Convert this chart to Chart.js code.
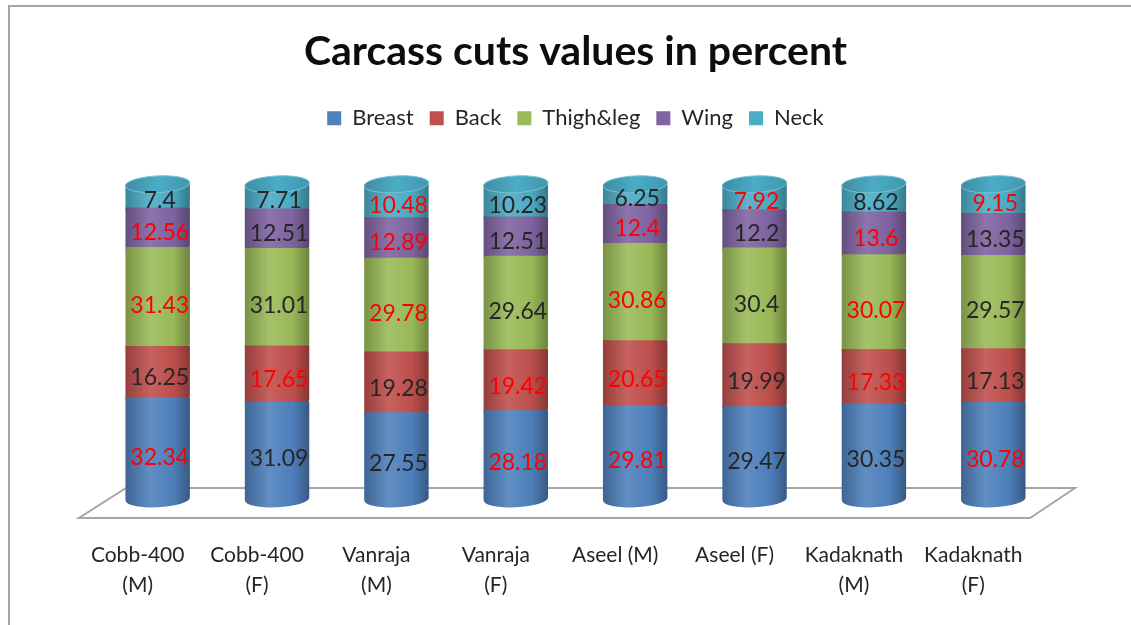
<!DOCTYPE html>
<html>
<head>
<meta charset="utf-8">
<script src="https://cdn.jsdelivr.net/npm/chart.js@4.4.1/dist/chart.umd.min.js"></script>
<style>
  html, body { margin:0; padding:0; background:#fff; }
  #wrap { width:1131px; height:625px; }
</style>
</head>
<body>
<div id="wrap"><canvas id="c" width="1131" height="625"></canvas></div>
<script>
// data
const categories = [["Cobb-400","(M)"], ["Cobb-400","(F)"], ["Vanraja","(M)"], ["Vanraja","(F)"],
                    "Aseel (M)", "Aseel (F)", ["Kadaknath","(M)"], ["Kadaknath","(F)"]];
const breast = [32.34, 31.09, 27.55, 28.18, 29.81, 29.47, 30.35, 30.78];
const back   = [16.25, 17.65, 19.28, 19.42, 20.65, 19.99, 17.33, 17.13];
const thigh  = [31.43, 31.01, 29.78, 29.64, 30.86, 30.4, 30.07, 29.57];
const wing   = [12.56, 12.51, 12.89, 12.51, 12.4, 12.2, 13.6, 13.35];
const neck   = [7.4, 7.71, 10.48, 10.23, 6.25, 7.92, 8.62, 9.15];

// which value labels are printed in red in the original (1 = red)
const breastRed = [1,0,0,1,1,0,0,1];
const backRed   = [0,1,0,1,1,0,1,0];
const thighRed  = [1,0,1,0,1,0,1,0];
const wingRed   = [1,0,1,0,1,0,1,0];
const neckRed   = [0,0,1,0,0,1,0,1];

const FONT = "Lato, 'Open Sans', sans-serif";
const TEXT = "#262626";

function shade(hex, f){
  const n = parseInt(hex.slice(1), 16);
  let r = n >> 16, g = (n >> 8) & 255, b = n & 255;
  const t = f < 0 ? 0 : 255, p = Math.abs(f);
  r = Math.round(r + (t - r) * p);
  g = Math.round(g + (t - g) * p);
  b = Math.round(b + (t - b) * p);
  return `rgb(${r},${g},${b})`;
}

// outer frame of the excel chart object (top + left edges only visible)
const frame = {
  id: "frame",
  beforeDraw(chart){
    const ctx = chart.ctx;
    ctx.save();
    ctx.strokeStyle = "#a6a6a6";
    ctx.lineWidth = 2;
    ctx.beginPath();
    ctx.moveTo(9, 625); ctx.lineTo(9, 6); ctx.lineTo(1131, 6);
    ctx.stroke();
    ctx.restore();
  }
};

// 3d floor under the cylinders
const floor = {
  id: "floor",
  beforeDatasetsDraw(chart){
    const { ctx, chartArea:a, scales } = chart;
    const y0 = scales.y.getPixelForValue(0);
    ctx.save();
    ctx.strokeStyle = "#a6a6a6";
    ctx.lineWidth = 2;
    ctx.beginPath();
    ctx.moveTo(a.left + 28, y0 - 11);
    ctx.lineTo(a.right + 22, y0 - 11);
    ctx.lineTo(a.right - 23, y0 + 19);
    ctx.lineTo(a.left - 19, y0 + 19);
    ctx.closePath();
    ctx.stroke();
    ctx.restore();
  }
};

// draws each stacked segment as a piece of a shaded cylinder
const cylinders = {
  id: "cylinders",
  beforeDatasetDraw(chart, args){
    const ctx = chart.ctx;
    const ds = chart.data.datasets[args.index];
    const c = ds.backgroundColor;
    const isTop = args.index === chart.data.datasets.length - 1;
    args.meta.data.forEach(bar => {
      const { x, y, base, width } = bar.getProps(["x","y","base","width"], true);
      const rx = width / 2, ry = width * 0.13, tilt = -0.05;
      const g = ctx.createLinearGradient(x - rx, 0, x + rx, 0);
      g.addColorStop(0, shade(c, -0.22));
      g.addColorStop(0.38, shade(c, 0.1));
      g.addColorStop(0.75, shade(c, -0.02));
      g.addColorStop(1, shade(c, -0.3));
      ctx.save();
      ctx.fillStyle = g;
      ctx.beginPath();
      ctx.moveTo(x - rx, y);
      ctx.lineTo(x - rx, base);
      ctx.ellipse(x, base, rx, ry, tilt, Math.PI, 0, true);
      ctx.lineTo(x + rx, y);
      ctx.closePath();
      ctx.fill();
      if (isTop){
        const gc = ctx.createLinearGradient(x - rx, 0, x + rx, 0);
        gc.addColorStop(0, shade(c, -0.18));
        gc.addColorStop(0.5, shade(c, 0.0));
        gc.addColorStop(1, shade(c, -0.12));
        ctx.fillStyle = gc;
        ctx.beginPath();
        ctx.ellipse(x, y, rx, ry, tilt, 0, Math.PI * 2);
        ctx.fill();
        ctx.strokeStyle = shade(c, 0.25);
        ctx.lineWidth = 1;
        ctx.stroke();
      }
      ctx.restore();
    });
    return false;
  }
};

// value labels, black or red as in the original
const valueLabels = {
  id: "valueLabels",
  afterDatasetsDraw(chart){
    const ctx = chart.ctx;
    ctx.save();
    ctx.font = `23px ${FONT}`;
    ctx.textAlign = "center";
    ctx.textBaseline = "middle";
    chart.data.datasets.forEach((ds, i) => {
      chart.getDatasetMeta(i).data.forEach((bar, j) => {
        const { x, y, base } = bar.getProps(["x","y","base"], true);
        const h = base - y;
        ctx.fillStyle = ds.redLabels[j] ? "#ff0000" : TEXT;
        ctx.fillText(String(ds.data[j]), x + 2, (y + base) / 2 + 3 + h * 0.06);
      });
    });
    ctx.restore();
  }
};

// extra room between legend and plot
const legendGap = {
  id: "legendGap",
  beforeInit(chart){
    const fit = chart.legend.fit;
    chart.legend.fit = function(){
      fit.bind(chart.legend)();
      this.height += 45;
    };
  }
};

new Chart(document.getElementById("c"), {
  type: "bar",
  data: {
    labels: categories,
    datasets: [
      { label:"Breast",    data:breast, backgroundColor:"#4f81bd", redLabels:breastRed },
      { label:"Back",      data:back,   backgroundColor:"#c0504d", redLabels:backRed },
      { label:"Thigh&leg", data:thigh,  backgroundColor:"#9bbb59", redLabels:thighRed },
      { label:"Wing",      data:wing,   backgroundColor:"#8064a2", redLabels:wingRed },
      { label:"Neck",      data:neck,   backgroundColor:"#4bacc6", redLabels:neckRed }
    ]
  },
  options: {
    responsive:false,
    animation:false,
    devicePixelRatio:1,
    layout:{ padding:{ left:98, right:78, top:0, bottom:25 } },
    datasets:{ bar:{ categoryPercentage:1, barPercentage:0.54, clip:false } },
    plugins:{
      title:{
        display:true,
        text:"Carcass cuts values in percent",
        color:"#0d0d0d",
        font:{ family:FONT, size:41, weight:"bold" },
        padding:{ top:27, bottom:15 }
      },
      legend:{
        position:"top",
        labels:{
          color:TEXT,
          font:{ family:FONT, size:22 },
          boxWidth:14, boxHeight:14,
          padding:16
        }
      },
      tooltip:{ enabled:false }
    },
    scales:{
      x:{
        stacked:true,
        grid:{ display:false, drawTicks:false },
        border:{ display:false },
        ticks:{ color:TEXT, font:{ family:FONT, size:21, lineHeight:1.43 }, padding:41, labelOffset:-20, maxRotation:0, autoSkip:false },
        afterFit(scale){ scale.height = 101; }
      },
      y:{
        stacked:true,
        display:false,
        min:0, max:100
      }
    }
  },
  plugins:[frame, floor, cylinders, valueLabels, legendGap]
});
</script>
</body>
</html>
